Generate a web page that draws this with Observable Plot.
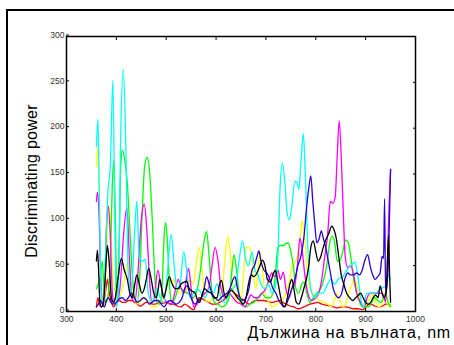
<!DOCTYPE html>
<html>
<head>
<meta charset="utf-8">
<script src="https://cdn.jsdelivr.net/npm/d3@7"></script>
<script src="https://cdn.jsdelivr.net/npm/@observablehq/plot@0.6"></script>
<style>
  html, body { margin: 0; padding: 0; background: #fff; }
  #wrap { position: relative; width: 454px; height: 345px; overflow: hidden; font-family: "Liberation Sans", Arial, sans-serif; }
  #box { position: absolute; left: 6px; top: 9px; width: 500px; height: 400px; border-left: 2px solid #000; border-top: 2px solid #000; }
  #chart { position: absolute; left: 0; top: 0; }
  #ylab { position: absolute; left: 32px; top: 181px; transform: translate(-50%, -50%) rotate(-90deg); font-size: 16px; letter-spacing: 0.25px; white-space: nowrap; color: #000; }
  #xlab { position: absolute; right: 3px; top: 324px; font-size: 16px; letter-spacing: 0.8px; white-space: nowrap; color: #000; }
</style>
</head>
<body>
<div id="wrap">
  <div id="box"></div>
  <div id="chart"></div>
  <div id="ylab">Discriminating power</div>
  <div id="xlab">Дължина на вълната, nm</div>
</div>
<script>
const xTicks = [300, 400, 500, 600, 700, 800, 900, 1000];
const yTicks = [0, 50, 100, 150, 200, 250, 300];

const cyan = [[360,180],[363,210],[366,120],[370,15],[374,10],[378,60],[383,130],[388,160],[393,252],[397,100],[400,5],[404,20],[409,200],[414,264],[419,180],[424,40],[430,20],[436,80],[441,120],[446,60],[452,55],[458,57],[464,20],[472,10],[480,25],[488,15],[495,10],[502,40],[510,84],[516,50],[522,25],[528,30],[535,65],[541,45],[548,15],[556,20],[563,25],[570,20],[578,15],[586,25],[594,20],[602,30],[610,15],[618,10],[626,20],[634,25],[640,30],[646,55],[653,77],[660,55],[665,50],[672,65],[678,45],[684,40],[690,30],[698,25],[705,30],[712,20],[718,25],[724,60],[728,130],[733,162],[738,140],[742,110],[747,100],[752,115],[758,142],[763,140],[766,133],[770,160],[775,194],[779,150],[784,70],[790,25],[798,15],[806,20],[814,20],[822,28],[830,35],[838,30],[846,36],[854,38],[862,45],[870,50],[878,54],[884,40],[890,15],[896,5],[902,20],[910,20],[920,20],[930,25],[940,28],[946,40],[950,35]];

const magenta = [[360,120],[362,130],[365,110],[369,30],[373,10],[377,30],[380,90],[384,115],[388,80],[392,20],[396,8],[402,10],[408,30],[414,80],[421,113],[426,60],[431,15],[437,10],[443,40],[450,100],[456,117],[461,90],[466,40],[471,10],[476,15],[483,45],[489,30],[495,15],[502,10],[510,8],[517,20],[524,35],[530,25],[536,20],[540,35],[545,47],[550,25],[555,5],[562,8],[570,15],[578,20],[585,25],[592,50],[598,70],[604,55],[610,25],[618,15],[626,20],[634,15],[642,10],[650,8],[658,5],[664,12],[670,18],[677,15],[684,15],[692,20],[700,25],[706,35],[712,42],[718,38],[724,45],[729,35],[735,43],[740,25],[746,15],[752,25],[758,30],[764,55],[768,80],[772,70],[778,40],[784,20],[792,12],[800,15],[806,20],[812,35],[818,60],[824,85],[829,120],[834,118],[839,125],[843,170],[847,208],[851,170],[855,110],[859,60],[864,48],[870,50],[876,40],[882,20],[890,10],[897,5],[903,15],[910,20],[920,20],[930,20],[936,18],[940,10],[943,40],[946,100],[950,155]];

const green = [[360,25],[364,30],[368,40],[372,55],[376,15],[380,10],[384,20],[388,60],[392,140],[395,165],[398,100],[401,15],[405,60],[409,160],[412,176],[417,165],[422,140],[427,90],[432,40],[437,15],[442,10],[447,40],[452,110],[457,160],[462,168],[467,150],[472,100],[477,40],[482,10],[487,8],[492,30],[496,85],[499,97],[503,70],[507,25],[512,10],[518,15],[524,25],[530,25],[536,22],[542,20],[548,18],[554,15],[560,20],[566,35],[572,60],[577,80],[581,87],[586,60],[591,25],[597,10],[604,8],[612,5],[620,8],[626,15],[631,40],[636,62],[641,45],[646,20],[652,10],[660,5],[668,8],[676,10],[684,15],[692,20],[700,15],[708,15],[714,20],[719,40],[724,70],[729,72],[735,72],[740,74],[745,75],[750,65],[755,50],[760,25],[766,20],[772,30],[777,32],[782,20],[788,10],[795,15],[802,20],[810,25],[816,35],[822,50],[828,75],[833,82],[838,75],[843,55],[848,55],[854,65],[860,78],[865,75],[870,60],[876,35],[882,20],[888,10],[894,5],[900,5],[906,5],[912,10],[918,15],[924,12],[930,10],[936,15],[940,20],[945,10],[950,5]];

const yellow = [[360,158],[363,180],[366,120],[369,40],[373,10],[377,20],[381,70],[385,115],[389,90],[393,40],[398,20],[404,15],[410,20],[416,35],[421,50],[425,54],[430,30],[435,10],[442,8],[450,12],[458,15],[465,10],[472,5],[480,5],[487,10],[494,15],[500,25],[505,35],[511,30],[516,35],[522,25],[528,20],[535,20],[542,25],[548,35],[554,30],[560,50],[566,70],[571,50],[576,20],[582,10],[590,12],[598,15],[606,12],[612,20],[618,60],[623,82],[628,65],[633,30],[638,15],[644,10],[650,12],[655,40],[660,70],[665,70],[670,65],[675,40],[680,25],[684,45],[688,65],[692,50],[698,20],[706,10],[714,5],[722,8],[730,10],[736,15],[742,25],[748,35],[752,50],[757,52],[763,60],[768,75],[773,99],[777,85],[781,55],[786,30],[792,20],[800,15],[808,12],[816,10],[824,8],[830,5],[836,10],[842,20],[848,12],[854,5],[860,8],[866,20],[872,28],[878,35],[884,25],[890,8],[896,5],[902,8],[908,15],[914,18],[920,10],[926,5],[932,8],[938,20],[942,15],[946,5],[950,8]];

const blue = [[360,5],[364,8],[368,12],[372,8],[376,5],[380,12],[384,15],[389,10],[394,8],[400,10],[406,14],[412,15],[418,12],[424,15],[430,20],[436,15],[442,10],[448,12],[454,15],[460,13],[466,8],[472,10],[478,12],[484,12],[490,8],[496,5],[502,10],[508,12],[514,10],[520,8],[526,10],[532,15],[537,25],[542,28],[547,20],[552,12],[558,8],[564,12],[570,15],[576,25],[581,38],[586,30],[592,20],[598,15],[604,12],[610,15],[616,18],[622,20],[628,25],[634,35],[638,38],[643,25],[648,15],[654,12],[660,15],[666,25],[672,45],[677,50],[682,60],[686,66],[690,55],[696,45],[702,42],[708,35],[714,25],[720,20],[726,12],[731,8],[736,5],[741,8],[746,15],[752,25],[758,35],[764,50],[770,60],[776,80],[781,110],[786,135],[790,148],[794,120],[798,95],[802,75],[807,80],[811,88],[815,80],[820,70],[825,55],[830,40],[835,25],[840,18],[846,15],[852,20],[858,35],[864,42],[870,40],[876,40],[882,42],[888,40],[893,45],[898,55],[904,62],[909,50],[914,40],[919,35],[924,38],[929,42],[933,60],[936,58],[938,123],[940,20],[943,30],[946,60],[950,155]];

const black = [[360,55],[362,67],[364,50],[367,10],[370,5],[374,10],[378,40],[382,72],[386,50],[390,15],[394,10],[398,15],[403,35],[410,58],[416,45],[422,35],[427,20],[432,15],[437,30],[441,40],[446,30],[451,20],[456,25],[460,35],[465,47],[470,35],[475,20],[480,15],[484,25],[487,35],[491,25],[495,15],[500,25],[506,38],[512,30],[518,25],[524,25],[530,30],[536,32],[541,33],[546,25],[552,22],[558,20],[563,12],[567,10],[572,18],[577,25],[583,22],[590,20],[596,15],[602,15],[607,30],[611,34],[616,20],[620,15],[625,20],[631,23],[637,20],[643,15],[648,12],[654,8],[660,15],[665,30],[670,40],[676,38],[682,42],[688,50],[693,56],[698,50],[703,35],[709,32],[714,40],[719,45],[723,35],[728,20],[733,8],[738,5],[743,15],[748,30],[752,35],[756,25],[761,10],[766,8],[771,15],[776,25],[781,35],[786,50],[790,70],[795,77],[800,65],[805,55],[810,60],[815,70],[820,78],[826,85],[832,93],[836,90],[841,80],[846,60],[851,40],[856,30],[862,20],[868,15],[874,12],[880,15],[886,18],[890,20],[895,15],[900,10],[905,8],[910,10],[915,15],[920,18],[925,15],[929,28],[933,20],[937,15],[941,20],[944,60],[946,83],[948,40],[950,10]];

const red = [[360,5],[363,15],[366,8],[370,5],[374,8],[378,20],[382,35],[386,20],[390,10],[395,5],[400,10],[406,12],[412,10],[418,10],[424,12],[430,12],[436,10],[442,8],[448,6],[454,8],[460,10],[466,10],[472,8],[478,8],[485,10],[492,9],[500,10],[508,8],[515,8],[522,6],[530,5],[537,8],[544,6],[550,3],[555,2],[560,8],[566,15],[572,14],[578,12],[585,10],[592,8],[600,8],[607,10],[614,12],[620,15],[626,22],[630,25],[636,20],[642,18],[648,15],[654,13],[660,10],[666,8],[672,10],[680,12],[688,12],[696,12],[704,11],[712,10],[720,11],[728,12],[734,10],[740,8],[748,6],[756,5],[764,3],[772,4],[780,6],[788,8],[796,9],[804,10],[812,8],[820,7],[828,6],[836,5],[844,4],[852,5],[860,5],[868,4],[876,3],[884,3],[892,2],[898,3],[904,7],[910,8],[918,6],[926,5],[934,6],[940,8],[946,8],[950,6]];

const series = [
  {name: "red", color: "#ff0000", data: red},
  {name: "yellow", color: "#ffff00", data: yellow},
  {name: "green", color: "#00ff00", data: green},
  {name: "magenta", color: "#ff00ff", data: magenta},
  {name: "cyan", color: "#00ffff", data: cyan},
  {name: "blue", color: "#2a00d4", data: blue},
  {name: "black", color: "#000000", data: black}
];

const lines = series.map(s => Plot.line(s.data, {x: d => d[0], y: d => d[1], stroke: s.color, strokeWidth: 1.3, curve: "monotone-x"}));

const fmt = d => String(d);
const blank = () => "";
const chart = Plot.plot({
  width: 454,
  height: 345,
  marginLeft: 66,
  marginRight: 39,
  marginTop: 36,
  marginBottom: 34,
  style: {fontFamily: "Liberation Sans, Arial, sans-serif", fontSize: "8.5px", color: "#333", background: "transparent", overflow: "visible"},
  x: {domain: [300, 1000]},
  y: {domain: [0, 300]},
  marks: [
    ...lines,
    Plot.frame({stroke: "#000", strokeWidth: 1.5}),
    Plot.axisX(xTicks, {anchor: "bottom", tickSize: -3, tickPadding: 7, tickFormat: fmt, label: null, stroke: "#000", fill: "#333"}),
    Plot.axisX(xTicks, {anchor: "top", tickSize: -3, tickFormat: blank, label: null, stroke: "#000"}),
    Plot.axisY(yTicks, {anchor: "left", tickSize: -3, tickPadding: 5, dy: -1.5, tickFormat: fmt, label: null, stroke: "#000", fill: "#333"}),
    Plot.axisY(yTicks, {anchor: "right", tickSize: -3, tickFormat: blank, label: null, stroke: "#000"})
  ]
});
document.getElementById("chart").appendChild(chart);
</script>
</body>
</html>
